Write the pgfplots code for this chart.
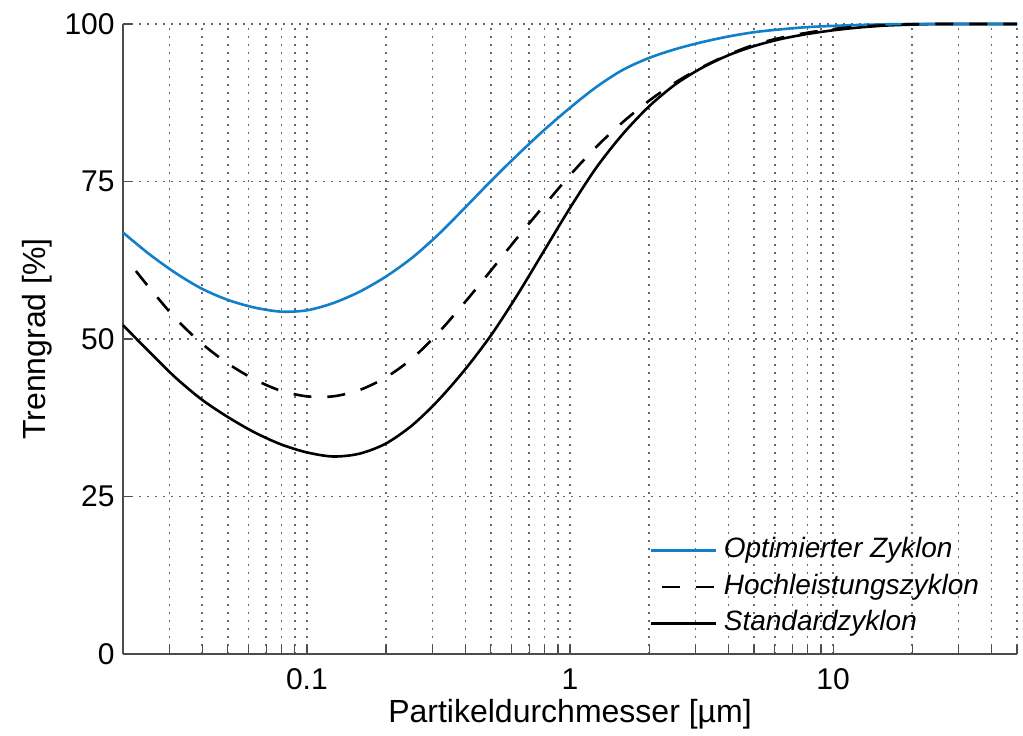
\documentclass[border=0pt]{standalone}
\usepackage{fontspec}
\setmainfont{Liberation Sans}
\usepackage{pgfplots}
\pgfplotsset{compat=1.18}
\definecolor{optblue}{RGB}{17,128,200}

% Trenngrad in %, Partikeldurchmesser in micrometer
\pgfplotstableread{
d       t
0.02    52.2
0.02512 48.0
0.03162 43.9
0.03981 40.4
0.05012 37.6
0.06310 35.2
0.07943 33.3
0.1     32.0
0.1259  31.35
0.1585  31.8
0.1995  33.4
0.2512  36.3
0.3162  40.3
0.3981  45.1
0.5012  50.6
0.6310  57.0
0.7943  63.9
1.0     70.8
1.259   77.2
1.585   82.5
1.995   86.9
2.512   90.4
3.162   93.0
3.981   95.0
5.012   96.5
6.310   97.6
7.943   98.4
10      99.0
12.59   99.45
15.85   99.75
19.95   99.9
25.12   100
31.62   100
39.81   100
50      100
}\standard

\pgfplotstableread{
d       t
0.02239 60.8
0.02512 58.2
0.03162 53.3
0.03981 49.3
0.05012 46.1
0.06310 43.6
0.07943 41.8
0.1     40.9
0.1259  40.9
0.1585  41.9
0.1995  43.9
0.2512  46.9
0.3162  51.0
0.3981  55.8
0.5012  60.9
0.6310  66.1
0.7943  71.1
1.0     76.0
1.259   80.5
1.585   84.4
1.995   87.8
2.512   90.7
3.162   93.1
3.981   95.1
5.012   96.7
6.310   97.8
7.943   98.6
10      99.2
12.59   99.6
15.85   99.8
19.95   99.95
25.12   100
31.62   100
39.81   100
50      100
}\hochleistung

\pgfplotstableread{
d       t
0.02    66.9
0.02512 63.5
0.03162 60.5
0.03981 58.0
0.05012 56.2
0.06310 55.0
0.07943 54.35
0.1     54.55
0.1259  55.7
0.1585  57.5
0.1995  59.9
0.2512  62.9
0.3162  66.6
0.3981  70.8
0.5012  75.1
0.6310  79.2
0.7943  83.1
1.0     86.7
1.259   90.0
1.585   92.7
1.995   94.6
2.512   96.0
3.162   97.1
3.981   98.0
5.012   98.7
6.310   99.15
7.943   99.5
10      99.7
12.59   99.85
15.85   99.95
19.95   100
25.12   100
31.62   100
39.81   100
50      100
}\optimiert

\begin{document}
\begin{tikzpicture}
\begin{axis}[
  name=ax,
  scale only axis,
  width=447pt, height=315pt,
  xmode=log,
  xmin=0.02, xmax=50, ymin=0, ymax=100,
  clip=false,
  axis x line*=bottom, axis y line*=left,
  axis line style={black!70, line width=0.6pt},
  xtick={0.1,1,10}, xticklabels={0.1,1,10},
  minor xtick={0.02,0.03,0.04,0.05,0.06,0.07,0.08,0.09,
               0.2,0.3,0.4,0.5,0.6,0.7,0.8,0.9,
               2,3,4,5,6,7,8,9,20,30,40,50},
  ytick={0,25,50,75,100},
  tick align=inside,
  major tick length=4.5pt, minor tick length=4.5pt,
  tick style={black!70, line width=0.6pt},
  xmajorgrids, xminorgrids, ymajorgrids,
  major grid style={black!60, line width=0.8pt, dash pattern=on 0.8pt off 3.2pt},
  minor grid style={black!60, line width=0.8pt, dash pattern=on 0.8pt off 3.2pt},
  /pgf/number format/assume math mode=true,
  tick label style={font=\fontsize{15}{18}\selectfont},
  yticklabel style={anchor=east, inner sep=0pt, xshift=-4pt},
  xticklabel style={anchor=north, inner sep=0pt, yshift=-7pt},
  xlabel={Partikeldurchmesser [µm]},
  ylabel={Trenngrad [\%]},
  label style={font=\fontsize{16}{19}\selectfont},
  xlabel style={at={(axis description cs:0.5,-0.108)}, anchor=base},
  ylabel style={at={(axis description cs:-0.0872,0.5)}, anchor=base, rotate=0},
  legend style={at={(axis description cs:0.5815,0.1948)}, anchor=north west,
    draw=none, fill=none, font=\fontsize{14}{16}\selectfont\itshape,
    nodes={inner sep=1pt, text height=10pt, text depth=3pt},
    row sep=3.25pt, column sep=2.5pt},
  legend cell align=left,
  legend image code/.code={\draw[#1] (0pt,0pt) -- (32.5pt,0pt);},
]
\addlegendimage{optblue, line width=1.3pt}
\addlegendimage{black, line width=1.3pt, dash pattern=on 9pt off 8pt, dash phase=11.5pt}
\addlegendimage{black, line width=1.3pt}
\legend{Optimierter Zyklon, Hochleistungszyklon, Standardzyklon}

\addplot[black, line width=1.3pt, smooth, forget plot] table[x=d, y=t] {\standard};
\addplot[optblue, line width=1.3pt, smooth, forget plot] table[x=d, y=t] {\optimiert};
\addplot[black, line width=1.3pt, smooth, dash pattern=on 9pt off 8pt, forget plot] table[x=d, y=t] {\hochleistung};
\end{axis}
\path ([xshift=-61.5pt,yshift=-39pt]ax.south west) rectangle ([xshift=3pt,yshift=12pt]ax.north east);
\end{tikzpicture}
\end{document}
